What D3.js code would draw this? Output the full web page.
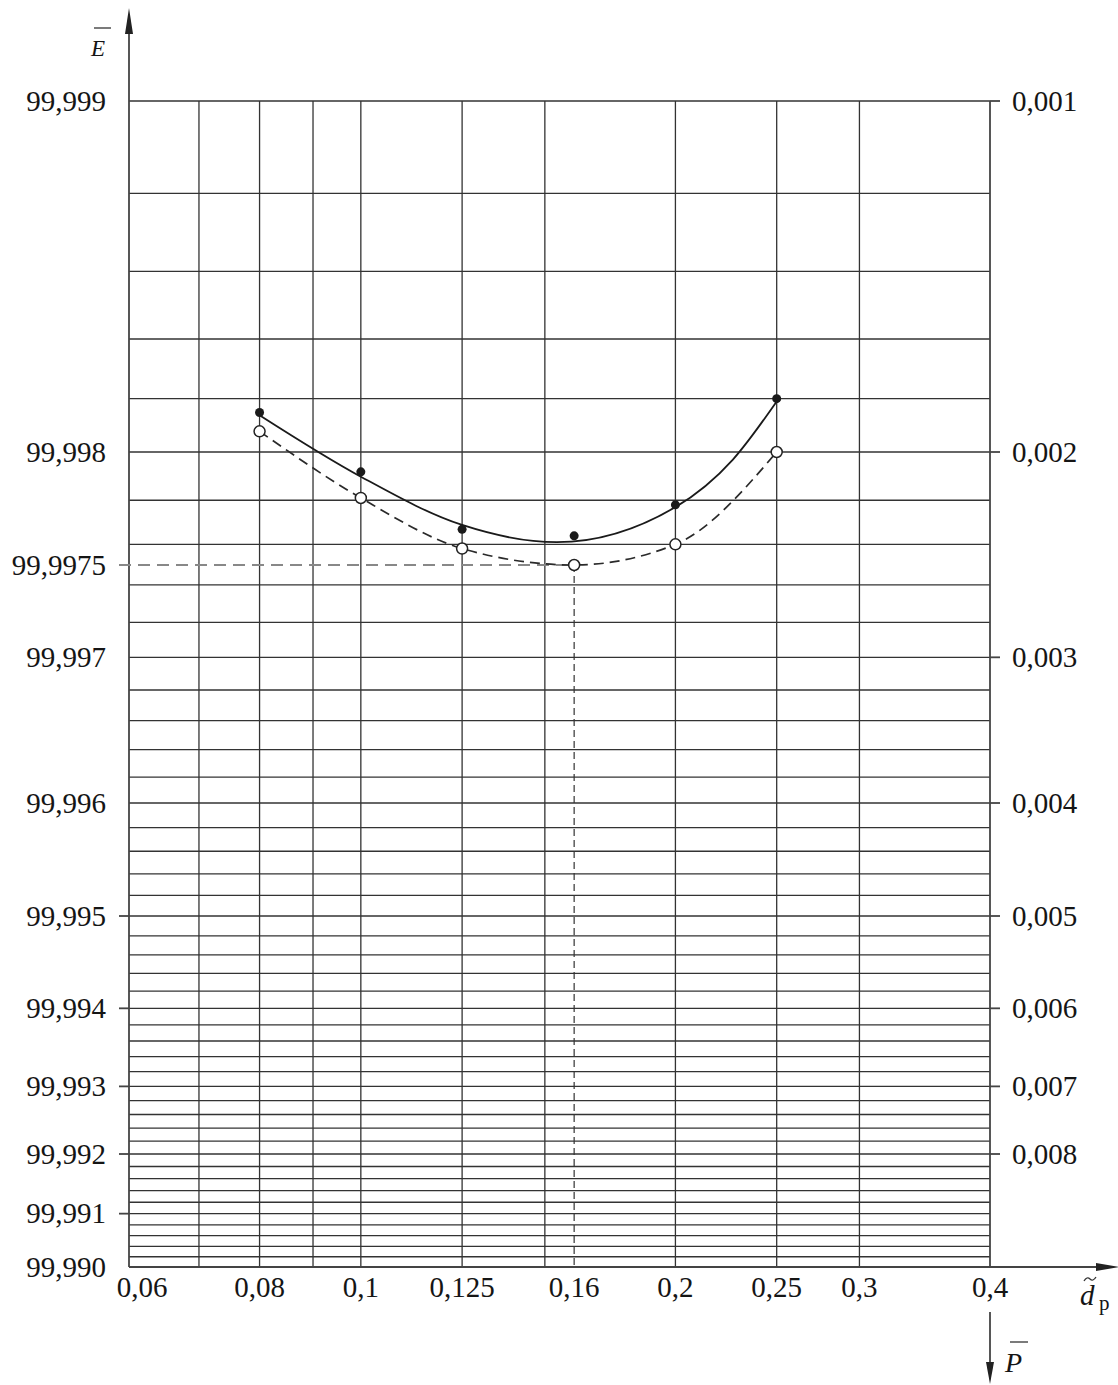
<!DOCTYPE html>
<html>
<head>
<meta charset="utf-8">
<script src="https://cdn.jsdelivr.net/npm/d3@7"></script>
<style>
  body { margin: 0; background: #fff; }
  svg { display: block; background: #fff; }
  text { font-family: "Liberation Serif", "Times New Roman", serif; fill: #151515; }
  .tick-label { font-size: 29px; }
  .grid line { stroke: #333; stroke-width: 1.3; }
  .axis { stroke: #444; stroke-width: 1.8; fill: none; }
  .arrow { fill: #222; }
</style>
</head>
<body>
<svg id="chart" width="1118" height="1385"></svg>
<script>
// particle size d_p, log axis
const dTicks = [0.06, 0.08, 0.1, 0.125, 0.16, 0.2, 0.25, 0.3, 0.4];
const dGrid = [0.07, 0.08, 0.09, 0.1, 0.125, 0.15, 0.2, 0.25, 0.3];

// efficiency E (%) on the left, penetration P = 100 - E on the right
const eTicks = [99.999, 99.998, 99.9975, 99.997, 99.996, 99.995, 99.994, 99.993, 99.992, 99.991, 99.990];
const eLabels = ["99,999", "99,998", "99,9975", "99,997", "99,996", "99,995", "99,994", "99,993", "99,992", "99,991", "99,990"];
const eMarked = [99.995, 99.994, 99.993, 99.992, 99.991];
const pTicks = [0.001, 0.002, 0.003, 0.004, 0.005, 0.006, 0.007, 0.008];
const pGridStep = 0.0002;

// measured points (filled) and corrected points (open)
const pointD = [0.08, 0.1, 0.125, 0.16, 0.2, 0.25];
const measuredE = [99.99815, 99.99792, 99.99767, 99.99764, 99.99778, 99.9982];
const correctedE = [99.99808, 99.99781, 99.99758, 99.9975, 99.9976, 99.998];

// smoothed curve drawn through the measured points
const fitD = [0.08, 0.1, 0.125, 0.154, 0.2, 0.227, 0.25];
const fitE = [99.99814, 99.9979, 99.99769, 99.99761, 99.99777, 99.99797, 99.99819];

// optimum
const optD = 0.16;
const optE = 99.9975;

const svg = d3.select("#chart");
const plot = { left: 129, right: 990, top: 101, bottom: 1267 };

const x = d3.scaleLog().domain([0.06, 0.4]).range([plot.left, plot.right]);
const pScale = d3.scaleLog().domain([0.001, 0.01]).range([plot.top, plot.bottom]);
const y = e => pScale(100 - e);
const fmt = v => String(v).replace(".", ",");

// grid
const grid = svg.append("g").attr("class", "grid");
grid.selectAll("line.h")
  .data(d3.range(0.001, 0.01 + 1e-9, pGridStep))
  .enter()
  .append("line")
  .attr("class", "h")
  .attr("x1", plot.left)
  .attr("x2", plot.right)
  .attr("y1", d => pScale(d))
  .attr("y2", d => pScale(d));
grid.selectAll("line.v")
  .data(dGrid)
  .enter()
  .append("line")
  .attr("class", "v")
  .attr("x1", d => x(d))
  .attr("x2", d => x(d))
  .attr("y1", plot.top)
  .attr("y2", plot.bottom);

// axes
svg.append("line").attr("class", "axis")
  .attr("x1", plot.left).attr("x2", plot.left).attr("y1", plot.bottom).attr("y2", 20);
svg.append("path").attr("class", "arrow")
  .attr("d", `M${plot.left},8 L${plot.left - 4},34 L${plot.left + 4},34 Z`);
svg.append("line").attr("class", "axis")
  .attr("x1", plot.left).attr("x2", 1110).attr("y1", plot.bottom).attr("y2", plot.bottom);
svg.append("path").attr("class", "arrow")
  .attr("d", `M1120,${plot.bottom} L1096,${plot.bottom - 4} L1096,${plot.bottom + 4} Z`);
svg.append("line").attr("class", "axis")
  .attr("x1", plot.right).attr("x2", plot.right).attr("y1", plot.top).attr("y2", plot.bottom);
svg.append("line").attr("class", "axis")
  .attr("x1", plot.right).attr("x2", plot.right).attr("y1", 1312).attr("y2", 1370);
svg.append("path").attr("class", "arrow")
  .attr("d", `M${plot.right},1384 L${plot.right - 4},1362 L${plot.right + 4},1362 Z`);

// left tick marks and labels
svg.selectAll("line.etick")
  .data(eMarked)
  .enter()
  .append("line")
  .attr("class", "axis etick")
  .attr("x1", plot.left - 10)
  .attr("x2", plot.left)
  .attr("y1", d => y(d))
  .attr("y2", d => y(d));
svg.selectAll("text.elabel")
  .data(eTicks)
  .enter()
  .append("text")
  .attr("class", "tick-label elabel")
  .attr("x", 106)
  .attr("y", d => y(d))
  .attr("dy", "0.33em")
  .attr("text-anchor", "end")
  .text((d, i) => eLabels[i]);

// right tick marks and labels
svg.selectAll("line.ptick")
  .data(pTicks)
  .enter()
  .append("line")
  .attr("class", "axis ptick")
  .attr("x1", plot.right)
  .attr("x2", plot.right + 10)
  .attr("y1", d => pScale(d))
  .attr("y2", d => pScale(d));
svg.selectAll("text.plabel")
  .data(pTicks)
  .enter()
  .append("text")
  .attr("class", "tick-label plabel")
  .attr("x", 1012)
  .attr("y", d => pScale(d))
  .attr("dy", "0.33em")
  .text(fmt);

// bottom labels
svg.selectAll("text.dlabel")
  .data(dTicks)
  .enter()
  .append("text")
  .attr("class", "tick-label dlabel")
  .attr("x", (d, i) => x(d) + (i === 0 ? 13 : 0))
  .attr("y", 1297)
  .attr("text-anchor", "middle")
  .text(fmt);

// axis titles
svg.append("text")
  .attr("x", 91).attr("y", 56)
  .style("font-size", "23px").style("font-style", "italic")
  .text("E");
svg.append("line").attr("x1", 94).attr("x2", 111).attr("y1", 28).attr("y2", 28)
  .attr("stroke", "#333").attr("stroke-width", 1.3);

svg.append("text")
  .attr("x", 1080).attr("y", 1305)
  .style("font-size", "29px").style("font-style", "italic")
  .text("d");
svg.append("path")
  .attr("d", "M1084,1281 q3,-5 6,-2 t6,-2")
  .attr("fill", "none").attr("stroke", "#333").attr("stroke-width", 1.3);
svg.append("text")
  .attr("x", 1099).attr("y", 1310)
  .style("font-size", "21px")
  .text("p");

svg.append("text")
  .attr("x", 1005).attr("y", 1372)
  .style("font-size", "28px").style("font-style", "italic")
  .text("P");
svg.append("line").attr("x1", 1010).attr("x2", 1028).attr("y1", 1342).attr("y2", 1342)
  .attr("stroke", "#333").attr("stroke-width", 1.3);

// optimum guide lines
svg.append("line")
  .attr("x1", plot.left - 10).attr("x2", x(optD))
  .attr("y1", y(optE)).attr("y2", y(optE))
  .attr("stroke", "#888").attr("stroke-width", 2)
  .attr("stroke-dasharray", "12,7");
svg.append("line")
  .attr("x1", x(optD)).attr("x2", x(optD))
  .attr("y1", y(optE)).attr("y2", plot.bottom)
  .attr("stroke", "#333").attr("stroke-width", 1.2)
  .attr("stroke-dasharray", "7,4");

// curves
const curve = d3.line().curve(d3.curveMonotoneX);
svg.append("path")
  .attr("d", curve(fitD.map((d, i) => [x(d), y(fitE[i])])))
  .attr("fill", "none").attr("stroke", "#1a1a1a").attr("stroke-width", 1.8);
svg.append("path")
  .attr("d", curve(pointD.map((d, i) => [x(d), y(correctedE[i])])))
  .attr("fill", "none").attr("stroke", "#2a2a2a").attr("stroke-width", 1.7)
  .attr("stroke-dasharray", "10,6");

// points
svg.selectAll("circle.measured")
  .data(pointD)
  .enter()
  .append("circle")
  .attr("class", "measured")
  .attr("cx", d => x(d))
  .attr("cy", (d, i) => y(measuredE[i]))
  .attr("r", 4.5)
  .attr("fill", "#1a1a1a");
svg.selectAll("circle.corrected")
  .data(pointD)
  .enter()
  .append("circle")
  .attr("class", "corrected")
  .attr("cx", d => x(d))
  .attr("cy", (d, i) => y(correctedE[i]))
  .attr("r", 5.5)
  .attr("fill", "#fff")
  .attr("stroke", "#222")
  .attr("stroke-width", 1.5);
</script>
</body>
</html>
